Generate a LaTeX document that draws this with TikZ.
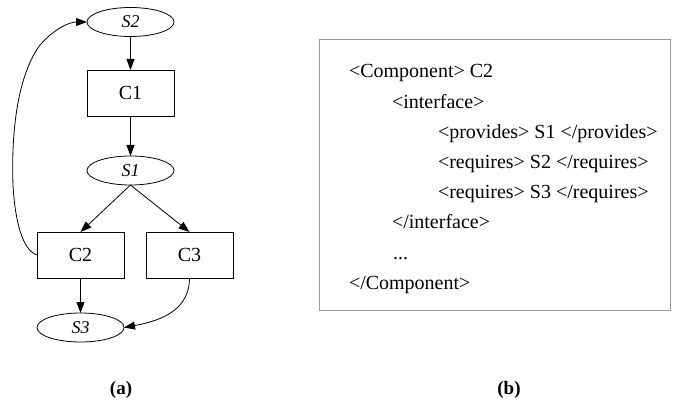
\documentclass[tikz,border=0pt]{standalone}
\usepackage{fontspec}
\setmainfont{Liberation Serif}
\usetikzlibrary{shapes.geometric,arrows.meta}
\begin{document}
\begin{tikzpicture}[x=1pt,y=-1pt,
  every node/.style={inner sep=0pt,outer sep=0pt},
  svc/.style={draw,ellipse,minimum width=87pt,minimum height=29pt,line width=0.8pt,font=\fontsize{18}{20}\selectfont\itshape},
  comp/.style={draw,rectangle,minimum width=87pt,minimum height=46pt,line width=0.8pt,font=\fontsize{20}{22}\selectfont},
  conn/.style={line width=0.8pt,-{Triangle[length=11pt,width=8pt]}},
  codeline/.style={anchor=base west,font=\fontsize{20}{22}\selectfont},
  captxt/.style={font=\fontsize{19}{21}\selectfont\bfseries}]
\useasboundingbox (0,0) rectangle (685,403);
% graph
\node[svc] (S2) at (130.5,22) {S2};
\node[comp] (C1) at (130.5,93) {C1};
\node[svc] (S1) at (130.5,170.5) {S1};
\node[comp] (C2) at (80.5,255) {C2};
\node[comp] (C3) at (189.5,255) {C3};
\node[svc] (S3) at (80.5,327.5) {S3};
\draw[conn] (S2) -- (C1);
\draw[conn] (C1) -- (S1);
\draw[conn] (S1.south) -- (C2.north);
\draw[conn] (S1.south) -- (C3.north);
\draw[conn] (C2) -- (S3);
\draw[conn] (C3.south) .. controls (189.5,308) and (165,320) .. (S3.east);
\draw[conn] (C2.west) .. controls (22,250) and (15,220) .. (13,185)
  .. controls (11,130) and (18,75) .. (40,45)
  .. controls (55,28) and (70,22) .. (S2.west);
% code box
\node[draw=gray!80,line width=0.9pt,minimum width=351pt,minimum height=271pt,anchor=north west] (box) at (319,39) {};
\node[codeline] (l1) at (349,78) {<Component> C2};
\node[codeline] (l2) at (392,108.2) {<interface>};
\node[codeline] (l3) at (438,138.4) {<provides> S1 </provides>};
\node[codeline] (l4) at (438,168.6) {<requires> S2 </requires>};
\node[codeline] (l5) at (438,198.8) {<requires> S3 </requires>};
\node[codeline] (l6) at (392,229) {</interface>};
\node[codeline] (l7) at (393,259.2) {...};
\node[codeline] (l8) at (349,289.4) {</Component>};
% captions
\node[captxt] (ca) at (121,390) {(a)};
\node[captxt] (cb) at (509,390) {(b)};
\end{tikzpicture}
\end{document}
